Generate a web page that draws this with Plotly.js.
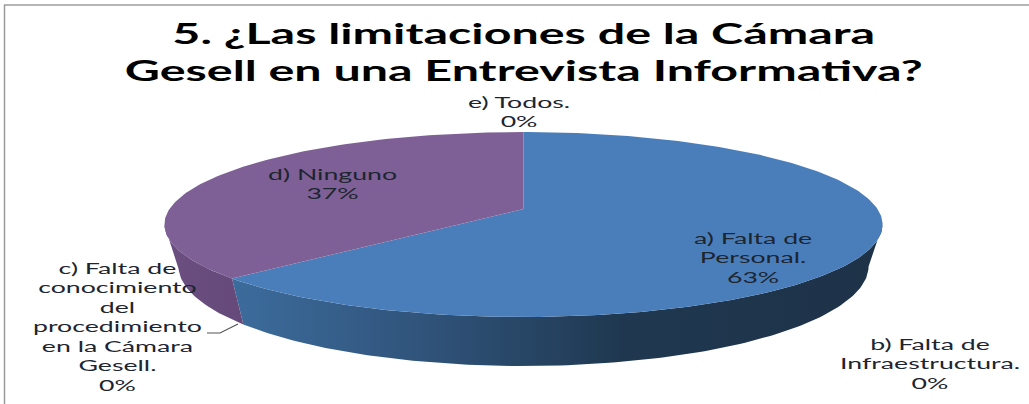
<!DOCTYPE html>
<html>
<head>
<meta charset="utf-8">
<script src="https://cdn.plot.ly/plotly-3.0.0.min.js"></script>
<style>
html,body{margin:0;padding:0;background:#fff}
.annotation-text{transform-box:fill-box;transform-origin:center;transform:scaleX(1.78)}
.gtitle{transform-box:fill-box;transform-origin:center;transform:scaleX(1.67)}
</style>
</head>
<body>
<div id="chart" style="width:1029px;height:404px"></div>
<script>
const categories = ["a) Falta de<br>Personal.", "b) Falta de<br>Infraestructura.", "c) Falta de<br>conocimiento<br>del<br>procedimiento<br>en la Cámara<br>Gesell.", "d) Ninguno", "e) Todos."];
const values = [63, 0, 0, 37, 0];
const topColors = ["#4a7ebb", "#be4b48", "#98b954", "#7f6096", "#46aac5"];
const sideScales = [
  [[0, "#3c6c9c"], [0.3, "#30537a"], [0.6, "#1f3850"], [1, "#1e3248"]],
  null,
  null,
  [[0, "#6a4f80"], [1, "#64497a"]],
  null
];
const labelX = [753, 930, 117, 332, 519];
const labelY = [257, 363, 326, 184, 111.5];
const titleText = "5. ¿Las limitaciones de la Cámara<br>Gesell en una Entrevista Informativa?";

// Projection of the pie disc on to the page
const C = {x: 523.5, y: 209, a: 354, b: 89.9, k: 0.1676};
const E = {x: 523.5, y: 224.5, rx: 359, ry: 92.5};   // top rim ellipse
const B = {x: 523.5, y: 266, rx: 345, ry: 100};      // bottom rim ellipse

function rim(frac) {
  const p = frac * 2 * Math.PI, u = Math.sin(p), v = Math.cos(p), w = 1 + C.k * v;
  const x = C.x + C.a * u / w, y = C.y - C.b * v / w;
  return {x, y, ex: (x - E.x) / E.rx, ey: (y - E.y) / E.ry};
}
const total = values.reduce((s, v) => s + v, 0);
const sideTraces = [], topTraces = [];
let acc = 0;
values.forEach((val, i) => {
  const start = acc / total, end = (acc + val) / total;
  acc += val;
  if (val === 0) return;
  const n = Math.max(8, Math.round((end - start) * 360));
  const pts = [];
  for (let j = 0; j <= n; j++) pts.push(rim(start + (end - start) * j / n));
  topTraces.push({
    type: "scatter", mode: "lines", hoverinfo: "skip", showlegend: false,
    x: [C.x, ...pts.map(p => p.x), C.x], y: [C.y, ...pts.map(p => p.y), C.y],
    fill: "toself", fillcolor: topColors[i], line: {width: 0, color: topColors[i]}
  });
  const vis = pts.filter(p => p.ey >= 0);
  if (vis.length > 1) {
    const bx = vis.map(p => B.x + B.rx * p.ex), by = vis.map(p => B.y + B.ry * p.ey);
    sideTraces.push({
      type: "scatter", mode: "lines", hoverinfo: "skip", showlegend: false,
      x: [...vis.map(p => p.x), ...bx.slice().reverse()],
      y: [...vis.map(p => p.y), ...by.slice().reverse()],
      fill: "toself", fillgradient: {type: "horizontal", colorscale: sideScales[i]},
      line: {width: 0, color: sideScales[i][0][1]}
    });
  }
});
const leader = {
  type: "scatter", mode: "lines", hoverinfo: "skip", showlegend: false,
  x: [207, 220, 238], y: [333, 333, 324], line: {color: "#555555", width: 1.2}
};
const annotations = categories.map((c, i) => ({
  x: labelX[i], y: labelY[i], xref: "x", yref: "y", showarrow: false,
  text: c + "<br>" + values[i] + "%", align: "center", xanchor: "center", yanchor: "middle",
  font: {family: "Lato", size: 15, color: "#1c2530"}
}));
Plotly.newPlot("chart", [...sideTraces, ...topTraces, leader], {
  width: 1029, height: 404,
  margin: {l: 0, r: 0, t: 0, b: 0},
  paper_bgcolor: "#ffffff", plot_bgcolor: "#ffffff",
  showlegend: false,
  title: {text: titleText, x: 0.509, xanchor: "center", y: 0.892, yanchor: "bottom",
          font: {family: "Lato", size: 29, color: "#000000", weight: 700}},
  xaxis: {range: [0, 1029], visible: false, fixedrange: true},
  yaxis: {range: [404, 0], visible: false, fixedrange: true},
  annotations,
  shapes: [
    {type: "line", xref: "x", yref: "y", x0: 4, x1: 1029, y0: 5, y1: 5, line: {color: "#b5b5b5", width: 2}},
    {type: "line", xref: "x", yref: "y", x0: 4.5, x1: 4.5, y0: 5, y1: 404, line: {color: "#9a9a9a", width: 1.5}}
  ]
}, {displayModeBar: false, staticPlot: true});
</script>
</body>
</html>
